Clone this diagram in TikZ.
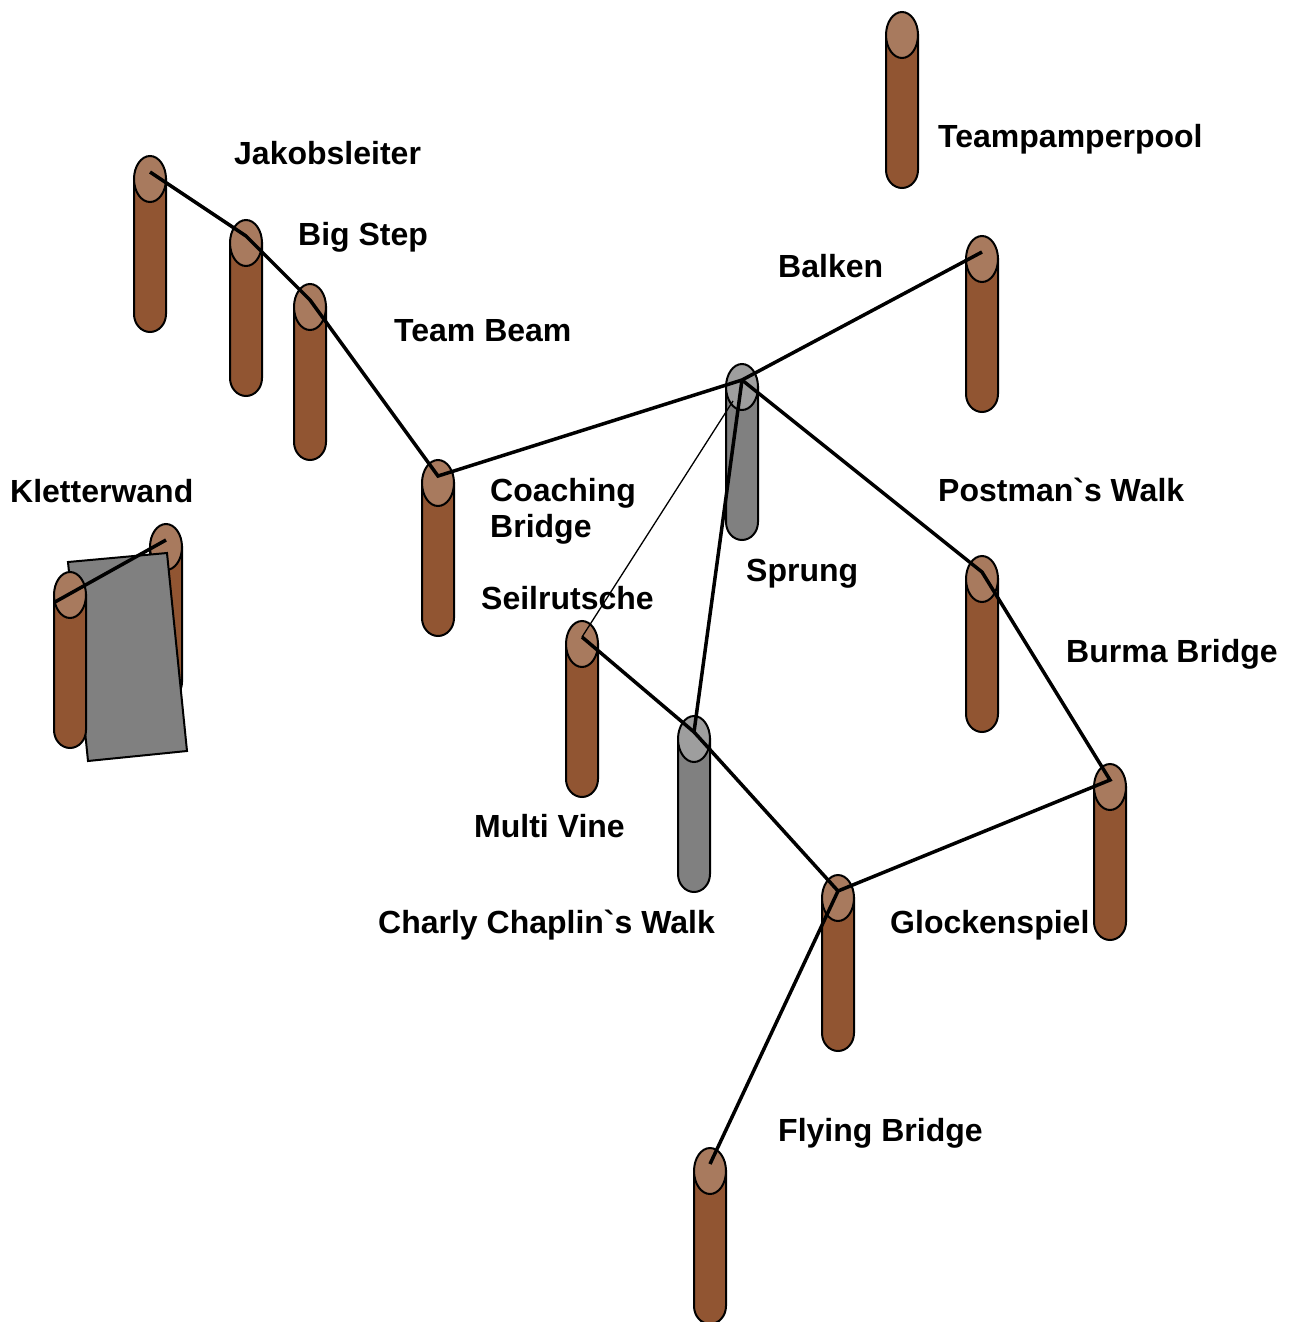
\documentclass[tikz,border=0pt]{standalone}
\usepackage{fontspec}
\setmainfont{Liberation Sans}
\usepackage{xcolor}
\usepackage{tikz}
\usetikzlibrary{positioning}
\definecolor{polebrown}{HTML}{915532}
\definecolor{poletop}{HTML}{A87A5E}
\definecolor{polegray}{HTML}{808080}
\definecolor{polegraytop}{HTML}{9E9E9E}

% pole: name, x, top y, body colour, top colour
\newcommand{\treepole}[5]{%
  \draw[pole, fill=#4] (#2-16,#3+23) -- (#2-16,#3+158)
    arc[start angle=180, end angle=360, x radius=16pt, y radius=18pt]
    -- (#2+16,#3+23) -- cycle;
  \draw[pole, fill=#5] (#2,#3+23) ellipse [x radius=16pt, y radius=23pt];
  \coordinate (#1) at (#2,#3+16);
}

\begin{document}
\begin{tikzpicture}[
  x=1pt, y=-1pt,
  pole/.style={draw=black, line width=2pt},
  wall/.style={draw=black, line width=2pt, fill=polegray},
  rope/.style={line width=3.5pt, line join=miter},
  thinrope/.style={line width=1.3pt},
  lbl/.style={anchor=base west, inner sep=0pt, align=left,
    font=\fontsize{32}{36}\selectfont\bfseries},
]
\useasboundingbox (0,0) rectangle (1297,1322);

% Kletterwand
\treepole{kwright}{166}{524}{polebrown}{poletop}
\draw[wall] (68,562) -- (167,553) -- (187,751) -- (88,761) -- cycle;
\treepole{kwpole}{70}{572}{polebrown}{poletop}
\coordinate (kwleft) at (55,602);

% Poles
\treepole{jakob}{150}{156}{polebrown}{poletop}
\treepole{bigstep}{246}{220}{polebrown}{poletop}
\treepole{teambeam}{310}{284}{polebrown}{poletop}
\treepole{coaching}{438}{460}{polebrown}{poletop}
\treepole{sprung}{742}{364}{polegray}{polegraytop}
\treepole{balken}{982}{236}{polebrown}{poletop}
\treepole{pool}{902}{12}{polebrown}{poletop}
\treepole{postman}{982}{556}{polebrown}{poletop}
\treepole{burma}{1110}{764}{polebrown}{poletop}
\treepole{glocken}{838}{875}{polebrown}{poletop}
\treepole{flying}{710}{1148}{polebrown}{poletop}
\treepole{seil}{582}{621}{polebrown}{poletop}
\treepole{charly}{694}{716}{polegray}{polegraytop}
\coordinate (sprunglow) at (733,401);

% Ropes
\draw[rope] (kwleft) -- (kwright);
\draw[rope] (jakob) -- (bigstep) -- (teambeam) -- (coaching) -- (sprung) -- (balken);
\draw[rope] (sprung) -- (postman) -- (burma) -- (glocken) -- (flying);
\draw[rope] (seil) -- (charly) -- (glocken);
\draw[rope] (sprung) -- (charly);
\draw[thinrope] (seil) -- (sprunglow);

% Labels
\node[lbl] (jakoblbl) at (234,164) {Jakobsleiter};
\node[lbl] (bigsteplbl) at (298,245) {Big Step};
\node[lbl] (teambeamlbl) at (394,341) {Team Beam};
\node[lbl] (kwlbl) at (10,502) {Kletterwand};
\node[lbl] (coachinglbl) at (490,537) {Coaching\\Bridge};
\node[lbl] (seillbl) at (481,609) {Seilrutsche};
\node[lbl] (sprunglbl) at (746,581) {Sprung};
\node[lbl] (balkenlbl) at (778,277) {Balken};
\node[lbl] (poollbl) at (938,147) {Teampamperpool};
\node[lbl] (postmanlbl) at (938,501) {Postman\textasciigrave s Walk};
\node[lbl] (burmalbl) at (1066,662) {Burma Bridge};
\node[lbl] (multilbl) at (474,837) {Multi Vine};
\node[lbl] (charlylbl) at (378,933) {Charly Chaplin\textasciigrave s Walk};
\node[lbl] (glockenlbl) at (890,933) {Glockenspiel};
\node[lbl] (flyinglbl) at (778,1141) {Flying Bridge};

\end{tikzpicture}
\end{document}
